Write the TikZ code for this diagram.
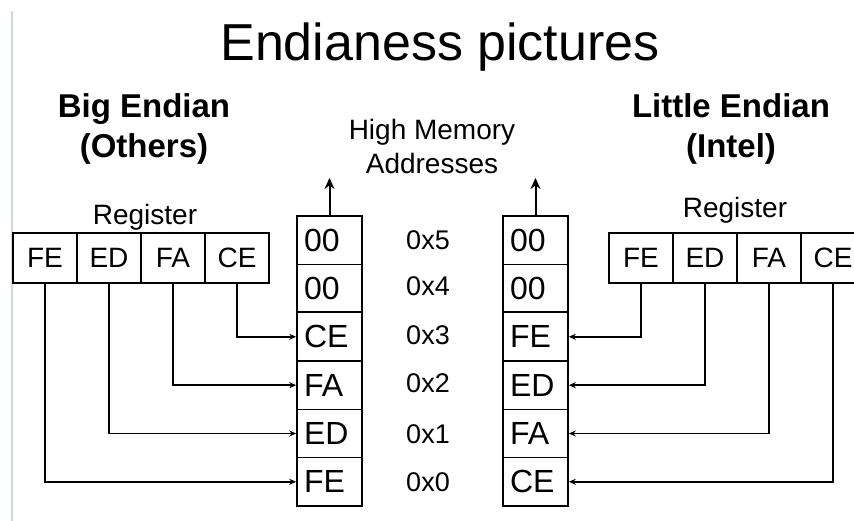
\documentclass[tikz,border=0pt]{standalone}
\usepackage{xcolor}
\usepackage{tikz}
\usepackage{fontspec}
\setmainfont{Liberation Sans}
\usetikzlibrary{arrows.meta}

\definecolor{slideedge}{RGB}{200,222,216}

\begin{document}
\begin{tikzpicture}[x=1pt, y=-1pt, every node/.style={font=\fontsize{28}{32}\selectfont}]
  \tikzstyle{regcell} = [rectangle, draw=black, line width=1.6pt, minimum width=64pt, minimum height=50pt,
                         inner sep=0pt, font=\fontsize{28}{30}\selectfont]
  \tikzstyle{memcell} = [rectangle, draw=black, line width=1.6pt, text width=51pt, inner xsep=7pt, inner ysep=0pt,
                         minimum height=48.33pt, align=left, font=\fontsize{32}{32}\selectfont]
  \tikzstyle{addr} = [font=\fontsize{27}{30}\selectfont]
  \tikzstyle{arrow} = [line width=1.5pt, -{Stealth[length=7pt,width=6pt]}]
  \tikzstyle{uparrow} = [line width=2pt, -{Stealth[length=11pt,width=10pt]}]
  \useasboundingbox (0,0) rectangle (854,521);
  \draw[slideedge, line width=2pt] (12,11) -- (12,521);

  % headings
  \node (title) [anchor=base, font=\fontsize{52}{56}\selectfont] at (440,61) {Endianess pictures};
  \node (big) [align=center, font=\fontsize{33}{40}\selectfont\bfseries] at (144,129) {Big Endian\\(Others)};
  \node (little) [align=center, font=\fontsize{33}{40}\selectfont\bfseries] at (731,129) {Little Endian\\(Intel)};
  \node (high) [align=center, font=\fontsize{28}{34}\selectfont] at (432,146) {High Memory\\Addresses};
  \node (regl) [anchor=base] at (145,225) {Register};
  \node (regr) [anchor=base] at (735,218) {Register};

  % big endian register
  \node (lFE) [regcell] at (45,258) {FE};
  \node (lED) [regcell] at (109,258) {ED};
  \node (lFA) [regcell] at (173,258) {FA};
  \node (lCE) [regcell] at (237,258) {CE};

  % little endian register
  \node (rFE) [regcell] at (641,258) {FE};
  \node (rED) [regcell] at (705,258) {ED};
  \node (rFA) [regcell] at (769,258) {FA};
  \node (rCE) [regcell] at (833,258) {CE};

  % memory, big endian
  \node (m5l) [memcell] at (329.5,240.2) {00};
  \node (m4l) [memcell] at (329.5,288.5) {00};
  \node (m3l) [memcell] at (329.5,336.8) {CE};
  \node (m2l) [memcell] at (329.5,385.2) {FA};
  \node (m1l) [memcell] at (329.5,433.5) {ED};
  \node (m0l) [memcell] at (329.5,481.8) {FE};

  % memory, little endian
  \node (m5r) [memcell] at (535.5,240.2) {00};
  \node (m4r) [memcell] at (535.5,288.5) {00};
  \node (m3r) [memcell] at (535.5,336.8) {FE};
  \node (m2r) [memcell] at (535.5,385.2) {ED};
  \node (m1r) [memcell] at (535.5,433.5) {FA};
  \node (m0r) [memcell] at (535.5,481.8) {CE};

  \draw[line width=2.6pt] (m3l.north west) -- (m3l.north east);
  \draw[line width=2.6pt] (m3r.north west) -- (m3r.north east);

  % addresses
  \node (a5) [addr] at (428,240.2) {0x5};
  \node (a4) [addr] at (428,286) {0x4};
  \node (a3) [addr] at (428,335) {0x3};
  \node (a2) [addr] at (428,383.5) {0x2};
  \node (a1) [addr] at (428,434) {0x1};
  \node (a0) [addr] at (428,482) {0x0};

  % arrows to high memory
  \coordinate (topl) at (329.5,178);
  \coordinate (topr) at (535.5,178);
  \draw [uparrow] (m5l.north) -- (topl);
  \draw [uparrow] (m5r.north) -- (topr);

  \draw [arrow] (lCE.south) |- (m3l.west);
  \draw [arrow] (lFA.south) |- (m2l.west);
  \draw [arrow] (lED.south) |- (m1l.west);
  \draw [arrow] (lFE.south) |- (m0l.west);

  \draw [arrow] (rFE.south) |- (m3r.east);
  \draw [arrow] (rED.south) |- (m2r.east);
  \draw [arrow] (rFA.south) |- (m1r.east);
  \draw [arrow] (rCE.south) |- (m0r.east);
\end{tikzpicture}
\end{document}
